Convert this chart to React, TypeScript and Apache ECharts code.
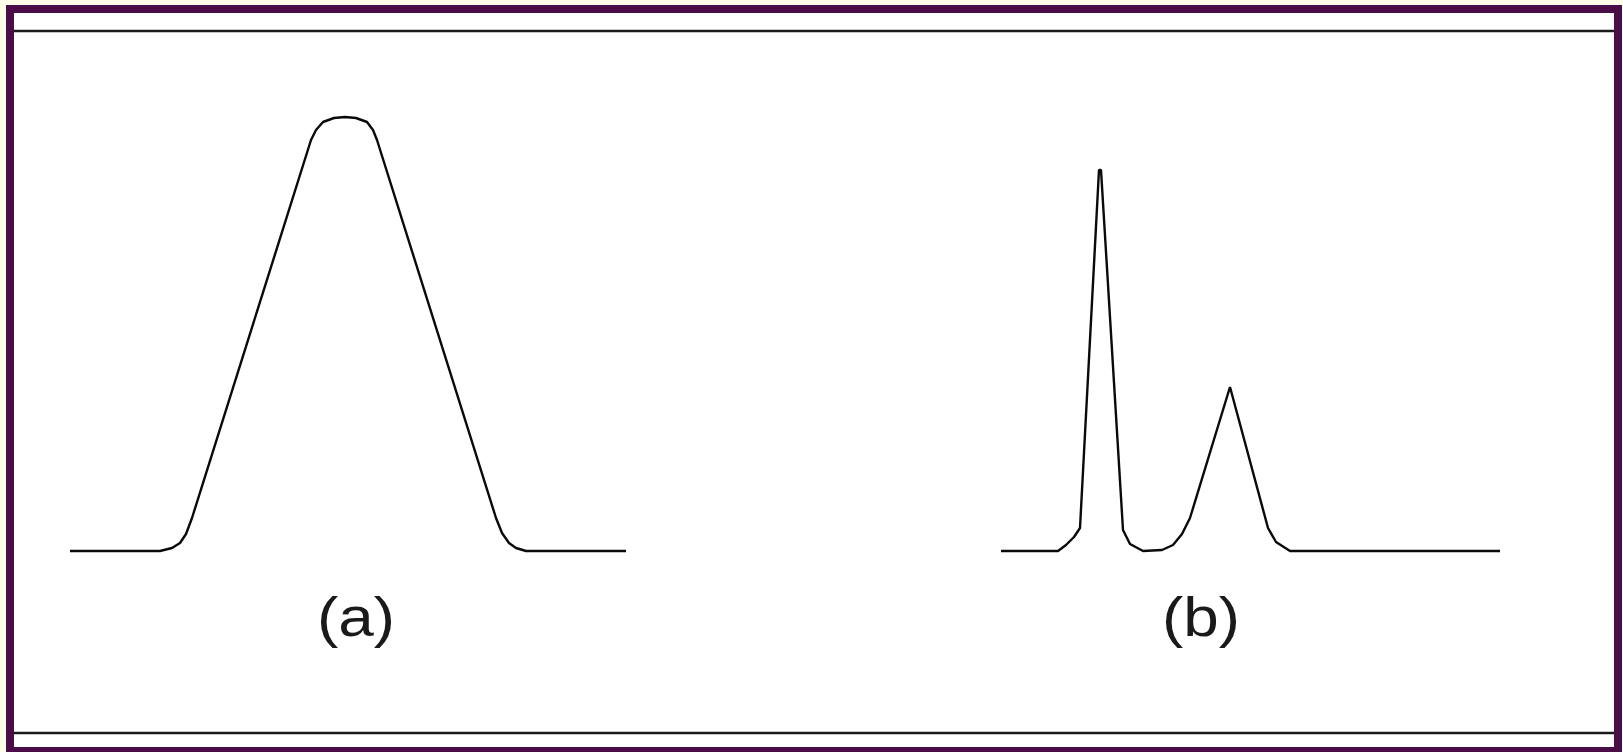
import React, { useEffect, useRef } from "react";
import * as echarts from "echarts";

// Signal curves: [position, height above baseline]
const curveA: [number, number][] = [
  [70, 0], [160, 0], [172, 3], [180, 8], [186, 17], [192, 33], [311, 411],
  [316, 421], [323, 429], [334, 433], [345, 434], [356, 433], [367, 429],
  [373, 421], [377, 411], [496, 33], [502, 18], [509, 8], [516, 3],
  [526, 0], [626, 0],
];

const curveB: [number, number][] = [
  [1001, 0], [1058, 0], [1066, 6], [1074, 14], [1080, 23], [1099, 381],
  [1101, 381], [1123, 21], [1130, 7], [1143, 0], [1162, 1], [1173, 6],
  [1182, 17], [1190, 33], [1230, 164], [1268, 23], [1276, 9], [1290, 0],
  [1500, 0],
];

const labels = ["(a)", "(b)"];

const W = 1623;
const H = 752;

export default function App() {
  const ref = useRef<HTMLDivElement>(null);

  useEffect(() => {
    document.body.style.margin = "0";
    if (!ref.current) return;
    const chart = echarts.init(ref.current, null, { renderer: "svg" });
    const lineStyle = { color: "#0a0a0a", width: 2.4 };
    const labelFont = "56px 'Liberation Sans', Arial, sans-serif";
    chart.setOption({
      animation: false,
      backgroundColor: "#FFFEE8",
      grid: { left: 0, right: 0, top: 0, bottom: 0 },
      xAxis: { type: "value", min: 0, max: W, show: false },
      yAxis: { type: "value", min: -201, max: 551, show: false },
      graphic: [
        {
          type: "rect",
          z: -10,
          shape: { x: 10, y: 9, width: 1608, height: 742 },
          style: { fill: "#ffffff", stroke: "#4B0D47", lineWidth: 8 },
        },
        {
          type: "line",
          z: 5,
          shape: { x1: 14, y1: 31, x2: 1614, y2: 31 },
          style: { stroke: "#1a1a1a", lineWidth: 2.5 },
        },
        {
          type: "line",
          z: 5,
          shape: { x1: 14, y1: 733, x2: 1614, y2: 733 },
          style: { stroke: "#1a1a1a", lineWidth: 2.5 },
        },
        {
          type: "text",
          z: 5,
          x: 356,
          y: 617,
          scaleX: 1.14,
          style: {
            text: labels[0],
            font: labelFont,
            fill: "#1a1a1a",
            align: "center",
            verticalAlign: "middle",
          },
        },
        {
          type: "text",
          z: 5,
          x: 1201,
          y: 617,
          scaleX: 1.14,
          style: {
            text: labels[1],
            font: labelFont,
            fill: "#1a1a1a",
            align: "center",
            verticalAlign: "middle",
          },
        },
      ],
      series: [
        {
          name: "a",
          type: "line",
          data: curveA,
          symbol: "none",
          lineStyle,
          clip: false,
        },
        {
          name: "b",
          type: "line",
          data: curveB,
          symbol: "none",
          lineStyle,
          clip: false,
        },
      ],
    });
    return () => chart.dispose();
  }, []);

  return (
    <div
      ref={ref}
      style={{ position: "absolute", left: 0, top: 0, width: W, height: H }}
    />
  );
}
